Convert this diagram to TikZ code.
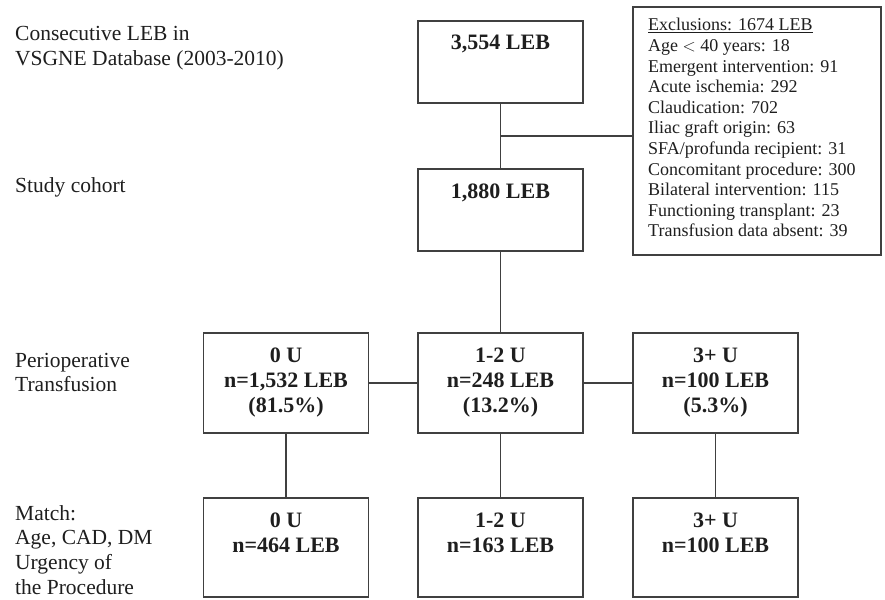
\documentclass[tikz,border=0pt]{standalone}
\usepackage{fontspec}
\setmainfont{Liberation Serif}
\definecolor{linec}{HTML}{404040}
\definecolor{txtc}{HTML}{1E1E1E}
\begin{document}
\begin{tikzpicture}[x=1pt,y=-1pt,
  box/.style={draw=linec, line width=1.3pt, rectangle, inner sep=0pt, minimum width=165pt},
  conn/.style={draw=linec, line width=1.3pt},
  lbl/.style={inner sep=0pt, anchor=base west, text=txtc, font=\fontsize{21.5}{24.7}\selectfont},
  bt/.style={inner sep=0pt, anchor=base, text=txtc, font=\fontsize{22}{25}\selectfont\bfseries},
  ext/.style={inner sep=0pt, anchor=base west, text=txtc, font=\fontsize{18}{20.6}\selectfont},
]
\useasboundingbox (0,0) rectangle (885,599);

% left labels
\node[lbl] (l1) at (15,41) {\begin{tabular}[t]{@{}l@{}}Consecutive LEB in\\VSGNE Database (2003-2010)\end{tabular}};
\node[lbl] (l2) at (15,192) {Study cohort};
\node[lbl] (l3) at (15,367) {\begin{tabular}[t]{@{}l@{}}Perioperative\\Transfusion\end{tabular}};
\node[lbl] (l4) at (15,520) {\begin{tabular}[t]{@{}l@{}}Match:\\Age, CAD, DM\\Urgency of\\the Procedure\end{tabular}};

% top boxes
\node[box, minimum height=82pt] (b1) at (500.5,62) {};
\node[bt] (b1t) at (500.5,50) {3,554 LEB};
\node[box, minimum height=82pt] (b2) at (500.5,210) {};
\node[bt] (b2t) at (500.5,198) {1,880 LEB};

% exclusions
\node[draw=linec, line width=1.3pt, rectangle, inner sep=0pt, minimum width=248pt, minimum height=248pt] (ex) at (757,131) {};
\node[ext] (ext) at (648,31) {\begin{tabular}[t]{@{}l@{}}\underline{Exclusions: 1674 LEB}\\
Age $<$ 40 years: 18\\
Emergent intervention: 91\\
Acute ischemia: 292\\
Claudication: 702\\
Iliac graft origin: 63\\
SFA/profunda recipient: 31\\
Concomitant procedure: 300\\
Bilateral intervention: 115\\
Functioning transplant: 23\\
Transfusion data absent: 39\end{tabular}};

% row 3
\node[box, minimum height=100pt] (p0) at (286,383) {};
\node[box, minimum height=100pt] (p1) at (500.5,383) {};
\node[box, minimum height=100pt] (p2) at (715.5,383) {};
\node[bt] (p0t) at (286,362) {\begin{tabular}[t]{@{}c@{}}0 U\\n=1,532 LEB\\(81.5\%)\end{tabular}};
\node[bt] (p1t) at (500.5,362) {\begin{tabular}[t]{@{}c@{}}1-2 U\\n=248 LEB\\(13.2\%)\end{tabular}};
\node[bt] (p2t) at (715.5,362) {\begin{tabular}[t]{@{}c@{}}3+ U\\n=100 LEB\\(5.3\%)\end{tabular}};

% row 4
\node[box, minimum height=99pt] (m0) at (286,547.5) {};
\node[box, minimum height=99pt] (m1) at (500.5,547.5) {};
\node[box, minimum height=99pt] (m2) at (715.5,547.5) {};
\node[bt] (m0t) at (286,527) {\begin{tabular}[t]{@{}c@{}}0 U\\n=464 LEB\end{tabular}};
\node[bt] (m1t) at (500.5,527) {\begin{tabular}[t]{@{}c@{}}1-2 U\\n=163 LEB\end{tabular}};
\node[bt] (m2t) at (715.5,527) {\begin{tabular}[t]{@{}c@{}}3+ U\\n=100 LEB\end{tabular}};

% connectors
\coordinate (j) at (500.5,136);
\draw[conn] (b1.south) -- (b2.north);
\draw[conn] (j) -- (j -| ex.west);
\draw[conn] (b2.south) -- (p1.north);
\draw[conn] (p0.east) -- (p1.west);
\draw[conn] (p1.east) -- (p2.west);
\draw[conn] (p0.south) -- (m0.north);
\draw[conn] (p1.south) -- (m1.north);
\draw[conn] (p2.south) -- (m2.north);
\end{tikzpicture}
\end{document}
